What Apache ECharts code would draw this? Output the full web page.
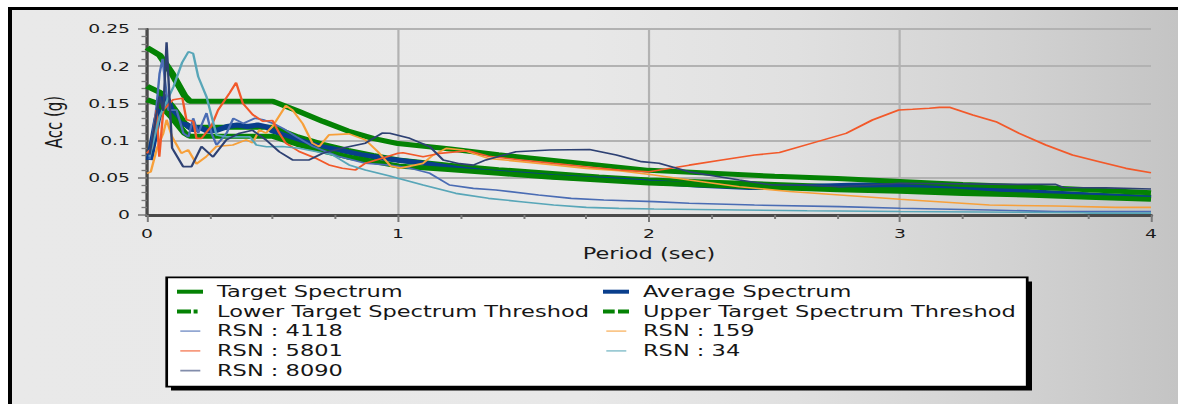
<!DOCTYPE html>
<html>
<head>
<meta charset="utf-8">
<script src="https://cdn.jsdelivr.net/npm/echarts@6/dist/echarts.min.js"></script>
<style>
  html, body { margin: 0; padding: 0; width: 1178px; height: 404px; overflow: hidden; background: #fff; }
  #frame {
    position: absolute; left: 8px; top: 7px; width: 1190px; height: 420px;
    border-left: 4px solid #000; border-top: 3px solid #000;
    background: linear-gradient(to right, #e9e9e9 0%, #e8e8e8 48%, #e0e0e0 66%, #d2d2d2 84%, #c2c2c2 100%);
  }
  /* the chart is laid out narrower and widened horizontally */
  #chart { position: absolute; left: 0; top: 0; width: 785px; height: 404px; transform: scaleX(1.50064); transform-origin: 0 0; }
</style>
</head>
<body>
<div id="frame"></div>
<div id="chart"></div>
<script>
// Response spectra: [period (s), spectral acceleration (g)]
const targetSpectrum = [[0,0.173],[0.05,0.165],[0.1,0.146],[0.15,0.123],[0.17,0.118],[0.5,0.118],[0.6,0.105],[0.7,0.095],[0.8,0.087],[0.9,0.080],[1.0,0.074],[1.2,0.067],[1.4,0.061],[1.6,0.056],[1.8,0.051],[2.0,0.047],[2.25,0.044],[2.5,0.041],[2.75,0.038],[3.0,0.036],[3.25,0.033],[3.5,0.030],[3.75,0.027],[4.0,0.024]];
const upperThreshold = [[0,0.225],[0.05,0.215],[0.1,0.190],[0.15,0.160],[0.17,0.153],[0.5,0.153],[0.6,0.140],[0.7,0.126],[0.8,0.113],[0.9,0.103],[1.0,0.096],[1.2,0.089],[1.4,0.081],[1.6,0.074],[1.8,0.067],[2.0,0.060],[2.25,0.056],[2.5,0.052],[2.75,0.049],[3.0,0.045],[3.25,0.041],[3.5,0.038],[3.75,0.034],[4.0,0.030]];
const lowerThreshold = [[0,0.155],[0.05,0.149],[0.1,0.131],[0.15,0.110],[0.17,0.106],[0.5,0.106],[0.6,0.095],[0.7,0.086],[0.8,0.078],[0.9,0.072],[1.0,0.066],[1.2,0.061],[1.4,0.056],[1.6,0.051],[1.8,0.047],[2.0,0.043],[2.25,0.040],[2.5,0.037],[2.75,0.034],[3.0,0.032],[3.25,0.029],[3.5,0.027],[3.75,0.024],[4.0,0.021]];
const averageSpectrum = [[0.01,0.074],[0.04,0.128],[0.065,0.158],[0.08,0.155],[0.1,0.137],[0.13,0.123],[0.16,0.121],[0.185,0.114],[0.21,0.118],[0.24,0.113],[0.28,0.114],[0.32,0.119],[0.36,0.121],[0.4,0.119],[0.44,0.121],[0.48,0.118],[0.5,0.113],[0.54,0.108],[0.6,0.101],[0.66,0.095],[0.72,0.090],[0.77,0.087],[0.85,0.081],[0.97,0.075],[1.1,0.0695],[1.23,0.063],[1.36,0.058],[1.49,0.055],[1.62,0.0515],[1.75,0.049],[1.88,0.047],[2.0,0.0445],[2.2,0.040],[2.4,0.037],[2.6,0.038],[2.8,0.040],[3.0,0.041],[3.22,0.039],[3.49,0.032],[3.75,0.027],[4.0,0.023]];
const rsn4118 = [[0.01,0.075],[0.038,0.146],[0.05,0.19],[0.062,0.21],[0.072,0.18],[0.085,0.141],[0.118,0.141],[0.145,0.11],[0.165,0.105],[0.184,0.13],[0.204,0.11],[0.237,0.137],[0.257,0.11],[0.277,0.094],[0.317,0.11],[0.344,0.13],[0.383,0.123],[0.43,0.13],[0.463,0.128],[0.503,0.123],[0.543,0.116],[0.596,0.105],[0.662,0.092],[0.715,0.085],[0.765,0.0785],[0.87,0.0696],[0.967,0.067],[1.047,0.063],[1.127,0.056],[1.205,0.0403],[1.3,0.0358],[1.39,0.0336],[1.56,0.0269],[1.69,0.0224],[1.82,0.0202],[2.02,0.018],[2.16,0.0157],[2.42,0.0134],[2.76,0.0112],[3.0,0.009],[3.356,0.0067],[3.62,0.0045],[4.0,0.0045]];
const rsn159 = [[0,0.056],[0.015,0.058],[0.04,0.09],[0.065,0.11],[0.078,0.128],[0.1,0.105],[0.137,0.083],[0.164,0.0875],[0.197,0.0687],[0.236,0.0785],[0.276,0.092],[0.342,0.094],[0.395,0.101],[0.421,0.097],[0.448,0.1145],[0.474,0.11],[0.5,0.119],[0.553,0.147],[0.58,0.141],[0.62,0.123],[0.659,0.0965],[0.686,0.092],[0.725,0.1077],[0.805,0.109],[0.87,0.101],[0.92,0.085],[0.97,0.066],[1.01,0.063],[1.1,0.0694],[1.14,0.0806],[1.192,0.0896],[1.258,0.0873],[1.36,0.0761],[1.49,0.0717],[1.62,0.0672],[1.75,0.0627],[1.88,0.0596],[2.02,0.0537],[2.16,0.047],[2.36,0.038],[2.56,0.0316],[2.76,0.0269],[3.0,0.0211],[3.09,0.0192],[3.356,0.0134],[3.62,0.012],[3.86,0.0102],[4.0,0.0102]];
const rsn5801 = [[0,0.083],[0.02,0.09],[0.038,0.141],[0.049,0.0785],[0.065,0.141],[0.104,0.155],[0.141,0.157],[0.157,0.128],[0.184,0.126],[0.197,0.103],[0.217,0.103],[0.256,0.119],[0.283,0.141],[0.329,0.164],[0.355,0.178],[0.382,0.15],[0.421,0.135],[0.461,0.126],[0.5,0.127],[0.527,0.11],[0.553,0.0965],[0.606,0.0853],[0.672,0.0763],[0.725,0.0673],[0.778,0.0628],[0.831,0.0606],[0.87,0.0696],[0.937,0.0763],[1.0,0.083],[1.02,0.0837],[1.1,0.0784],[1.165,0.0828],[1.28,0.0864],[1.36,0.079],[1.49,0.074],[1.62,0.0694],[1.75,0.0649],[1.88,0.0604],[2.0,0.058],[2.16,0.067],[2.29,0.0739],[2.42,0.0806],[2.52,0.084],[2.65,0.0966],[2.785,0.1097],[2.89,0.1277],[2.995,0.1412],[3.05,0.1421],[3.117,0.1434],[3.157,0.1447],[3.197,0.1447],[3.29,0.1345],[3.382,0.1254],[3.475,0.1097],[3.581,0.0941],[3.687,0.0807],[3.794,0.0717],[3.9,0.0627],[4.0,0.0569]];
const rsn34 = [[0.01,0.0785],[0.05,0.132],[0.105,0.172],[0.14,0.205],[0.165,0.2195],[0.184,0.217],[0.204,0.186],[0.237,0.159],[0.277,0.1075],[0.317,0.105],[0.41,0.105],[0.436,0.094],[0.476,0.0918],[0.54,0.092],[0.606,0.0898],[0.738,0.081],[0.805,0.0673],[0.87,0.0606],[0.967,0.0524],[1.0,0.0494],[1.1,0.0403],[1.23,0.0291],[1.36,0.0224],[1.49,0.0179],[1.62,0.0134],[1.75,0.0103],[1.88,0.0089],[2.02,0.008],[2.36,0.0067],[2.63,0.0058],[3.0,0.0048],[3.73,0.0031],[3.76,0.0025],[4.0,0.0025]];
const rsn8090 = [[0.01,0.081],[0.03,0.12],[0.05,0.16],[0.065,0.14],[0.078,0.232],[0.1,0.09],[0.144,0.065],[0.177,0.065],[0.217,0.092],[0.263,0.078],[0.316,0.101],[0.369,0.11],[0.42,0.114],[0.474,0.101],[0.527,0.085],[0.58,0.074],[0.646,0.074],[0.7,0.083],[0.78,0.09],[0.87,0.0965],[0.937,0.11],[0.967,0.1098],[1.047,0.103],[1.127,0.0918],[1.18,0.074],[1.245,0.069],[1.3,0.067],[1.35,0.074],[1.47,0.0851],[1.604,0.0873],[1.763,0.088],[1.87,0.0806],[1.97,0.0717],[2.04,0.0695],[2.16,0.058],[2.36,0.047],[2.49,0.0403],[2.63,0.0403],[2.76,0.038],[3.0,0.0426],[3.45,0.0412],[3.62,0.0412],[3.65,0.037],[3.82,0.0365],[4.0,0.0349]];

const GREEN = '#048204', NAVY_AVG = '#093e8c';
const COLORS = { r4118: '#4a6cb4', r159: '#f7a03a', r5801: '#f2592a', r34: '#58a6b8', r8090: '#2e4173' };

// horizontal stretch of the chart box
const SX = 1178 / 785;
const px = v => v / SX;

const FONT = 'DejaVu Sans';

// legend glyphs (chart units, 17.33 x 4)
const W = px(26);
const ICON_SOLID = `path://M0,0H${W}V4H0Z`;
const ICON_DASHDOT = `path://M0,0H${px(14)}V4H0Z M${px(16.6)},0H${px(20.6)}V4H${px(16.6)}Z M${W},0L${W},4Z`;
const ICON_DASH = `path://M0,0H${px(11.7)}V4H0Z M${px(15)},0H${W}V4H${px(15)}Z`;
const ICON_THIN = `path://M0,0L0,4Z M${px(3.3)},1.1H${px(23.3)}V2.9H${px(3.3)}Z M${W},0L${W},4Z`;

function line(name, data, color, width) {
  return {
    type: 'line', name, data, symbol: 'none', showSymbol: false,
    lineStyle: { color, width }, itemStyle: { color },
    emphasis: { disabled: true }, animation: false
  };
}

const chart = echarts.init(document.getElementById('chart'), null, { renderer: 'svg' });

const legendCommon = {
  orient: 'vertical', itemWidth: W, itemHeight: 4, itemGap: 2.75, padding: 0,
  selectedMode: false,
  itemStyle: { borderWidth: 0 },
  textStyle: { fontFamily: FONT, fontSize: 15, lineHeight: 17, color: '#161616', padding: [0, 0, 0, px(6.5)] }
};

chart.setOption({
  animation: false,
  grid: { left: px(147), right: px(1178 - 1151), top: 29, bottom: 404 - 215, containLabel: false },
  graphic: [
    { type: 'rect', z: 0, shape: { x: px(171), y: 281.5, width: px(861), height: 109 }, style: { fill: '#000' } },
    { type: 'rect', z: 1, shape: { x: px(166.7), y: 277.3, width: px(860.5), height: 109.4 }, style: { fill: '#fff', stroke: '#000', lineWidth: 1.8 } }
  ],
  legend: [
    Object.assign({}, legendCommon, {
      left: px(177), top: 283.2,
      data: [
        { name: 'Target Spectrum', icon: ICON_SOLID },
        { name: 'Lower Target Spectrum Threshod', icon: ICON_DASHDOT },
        { name: 'RSN : 4118', icon: ICON_THIN, itemStyle: { opacity: 0.6 } },
        { name: 'RSN : 5801', icon: ICON_THIN, itemStyle: { opacity: 0.6 } },
        { name: 'RSN : 8090', icon: ICON_THIN, itemStyle: { opacity: 0.6 } }
      ]
    }),
    Object.assign({}, legendCommon, {
      left: px(603), top: 283.2,
      data: [
        { name: 'Average Spectrum', icon: ICON_SOLID },
        { name: 'Upper Target Spectrum Threshod', icon: ICON_DASH },
        { name: 'RSN : 159', icon: ICON_THIN, itemStyle: { opacity: 0.6 } },
        { name: 'RSN : 34', icon: ICON_THIN, itemStyle: { opacity: 0.6 } }
      ]
    })
  ],
  xAxis: {
    type: 'value', min: 0, max: 4, interval: 1,
    name: 'Period (sec)', nameLocation: 'middle', nameGap: 31,
    nameTextStyle: { fontFamily: FONT, fontSize: 15, color: '#1a1a1a' },
    axisLine: { show: true, onZero: false, lineStyle: { color: '#4a4a4a', width: 3 } },
    axisTick: { show: true, length: 7, lineStyle: { color: '#7a7a7a', width: px(2) } },
    minorTick: { show: true, splitNumber: 4, length: 4, lineStyle: { color: '#7a7a7a', width: px(2) } },
    axisLabel: { margin: 12, fontFamily: FONT, fontSize: 12.5, color: '#1a1a1a' },
    splitLine: { show: true, showMinLine: false, showMaxLine: false, lineStyle: { color: '#b2b2b2', width: px(2.2) } }
  },
  yAxis: {
    type: 'value', min: 0, max: 0.25, interval: 0.05,
    name: 'Acc (g)', nameLocation: 'middle', nameGap: 54, nameRotate: 90,
    nameTextStyle: { fontFamily: FONT, fontSize: 15, color: '#1a1a1a' },
    axisLine: { show: true, onZero: false, lineStyle: { color: '#4a4a4a', width: px(3.3) } },
    axisTick: { show: true, length: px(9), lineStyle: { color: '#7a7a7a', width: 1.5 } },
    minorTick: { show: true, splitNumber: 5, length: px(5.5), lineStyle: { color: '#7a7a7a', width: 1.3 } },
    axisLabel: { margin: px(17), fontFamily: FONT, fontSize: 12.5, color: '#1a1a1a' },
    splitLine: { show: true, showMinLine: false, lineStyle: { color: '#b2b2b2', width: 2 } }
  },
  series: [
    line('Target Spectrum', targetSpectrum, GREEN, 5),
    line('Average Spectrum', averageSpectrum, NAVY_AVG, 5),
    line('Lower Target Spectrum Threshod', lowerThreshold, GREEN, 5),
    line('Upper Target Spectrum Threshod', upperThreshold, GREEN, 5),
    line('RSN : 4118', rsn4118, COLORS.r4118, 1.6),
    line('RSN : 159', rsn159, COLORS.r159, 1.6),
    line('RSN : 5801', rsn5801, COLORS.r5801, 1.6),
    line('RSN : 34', rsn34, COLORS.r34, 1.6),
    line('RSN : 8090', rsn8090, COLORS.r8090, 1.6)
  ]
});
</script>
</body>
</html>
